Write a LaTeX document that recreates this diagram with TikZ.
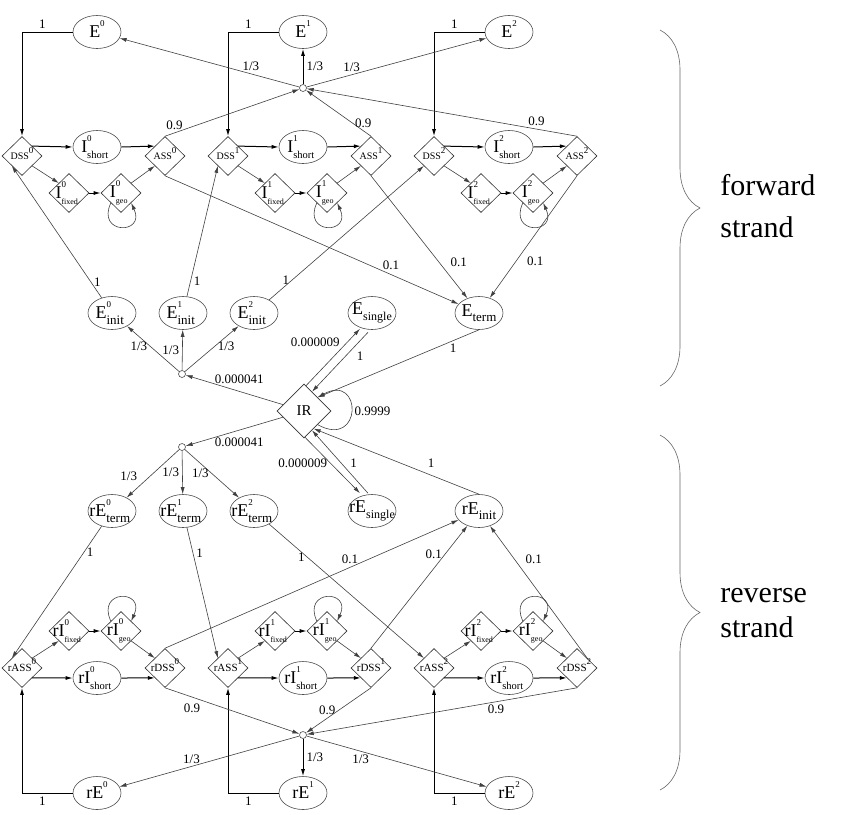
\documentclass[tikz,border=0pt]{standalone}
\usepackage{fontspec}
\setmainfont{Liberation Serif}
\usetikzlibrary{shapes.geometric,arrows.meta,decorations.pathreplacing}

% state label: [sub size]{name}{superscript}{subscript}
\newcommand{\nlab}[4][5]{\makebox[0pt]{#2\rlap{\raisebox{0.62em}{\fontsize{4.5}{5}\selectfont #3}}\rlap{\raisebox{-2.8pt}{\fontsize{#1}{6}\selectfont #4}}\phantom{\fontsize{4.5}{5}\selectfont #3}\phantom{\fontsize{#1}{6}\selectfont #4}}}

\begin{document}
\begin{tikzpicture}[y=-0.5pt, x=0.5pt,
	ell/.style={ellipse, draw=black!70, line width=0.3pt, minimum width=24pt, minimum height=16.5pt, inner sep=0pt, font=\fontsize{9}{10}\selectfont},
	dia/.style={diamond, draw=black!80, line width=0.3pt, minimum width=20pt, minimum height=19.5pt, inner sep=0pt, font=\fontsize{5}{6}\selectfont},
	sdia/.style={dia, font=\fontsize{9}{10}\selectfont},
	hub/.style={circle, draw=black!70, line width=0.3pt, minimum size=3.5pt, inner sep=0pt},
	link/.style={draw=black!75, line width=0.3pt, -{Latex[length=3.5pt,width=2pt]}},
	strong/.style={link, draw=black, line width=0.5pt},
	lbl/.style={font=\fontsize{6.5}{7}\selectfont, inner sep=1.5pt},
	side/.style={font=\fontsize{15}{18}\selectfont, inner sep=0pt, anchor=base west}]
	\useasboundingbox (0,0) rectangle (854,814);

	%forward strand
	\foreach \k/\x in {0/0,1/206,2/412}{
		\node[ell] (E\k) at (97+\x,32) {\nlab{E}{\k}{}};
		\node[dia] (DSS\k) at (22+\x,156) {\nlab{DSS}{\k}{}};
		\node[ell] (Is\k) at (97+\x,147) {\nlab[5.25]{I}{\k}{short}};
		\node[dia] (ASS\k) at (165+\x,156) {\nlab{ASS}{\k}{}};
		\node[sdia] (If\k) at (69+\x,193) {\nlab[4]{I}{\k}{fixed}};
		\node[sdia] (Ig\k) at (121+\x,193) {\nlab[4]{I}{\k}{geo}};
		\draw[strong] (E\k.west) -| (DSS\k.north) node[lbl, pos=0.3, above] {1};
		\draw[strong] (DSS\k.north east) -- (Is\k.west);
		\draw[strong] (Is\k.east) -- (ASS\k.north west);
		\draw[link] (DSS\k.south east) -- (If\k.north west);
		\draw[strong] (If\k.east) -- (Ig\k.west);
		\draw[link] (Ig\k.north east) -- (ASS\k.south west);
		\draw[link] (Ig\k.south west) .. controls +(-15,32) and +(15,32) .. (Ig\k.south east);
	}

	%top hub
	\node[hub] (htop) at (303,88) {};
	\draw[link] (htop) -- (E0) node[lbl, pos=0.27, above] {1/3};
	\draw[strong] (htop) -- (E1) node[lbl, pos=0.5, right] {1/3};
	\draw[link] (htop) -- (E2) node[lbl, pos=0.25, above] {1/3};
	\draw[link] (ASS0.north) -- (htop) node[lbl, pos=0.07, above] {0.9};
	\draw[link] (ASS1.north) -- (htop) node[lbl, pos=0.12, above] {0.9};
	\draw[link] (ASS2.north) -- (htop) node[lbl, pos=0.15, above] {0.9};

	%initial, single and terminal exons
	\node[ell] (Ei0) at (112,313) {\nlab[6.5]{E}{0}{init}};
	\node[ell] (Ei1) at (183,313) {\nlab[6.5]{E}{1}{init}};
	\node[ell] (Ei2) at (254,313) {\nlab[6.5]{E}{2}{init}};
	\node[ell] (Es) at (372,313) {\nlab[6]{E}{}{single}};
	\node[ell] (Et) at (479,313) {\nlab[6.5]{E}{}{term}};
	\node[hub] (hinit) at (182,374) {};
	\node[dia, minimum width=27pt, minimum height=27pt, font=\fontsize{7.5}{8}\selectfont] (IR) at (304,411) {IR};

	\draw[link] (Ei0) -- (DSS0.south west) node[lbl, pos=0.12, right] {1};
	\draw[link] (Ei1) -- (DSS1.south west) node[lbl, pos=0.12, right] {1};
	\draw[link] (Ei2) -- (DSS2.south west) node[lbl, pos=0.15, left] {1};
	\draw[link] (ASS0.south) -- (Et) node[lbl, pos=0.77, above=1pt] {0.1};
	\draw[link] (ASS1.south) -- (Et) node[lbl, pos=0.71, right=4pt] {0.1};
	\draw[link] (ASS2.south) -- (Et) node[lbl, pos=0.7, right=4pt] {0.1};
	\draw[link] (Et.south) -- (IR.north east) node[lbl, pos=0.16, below] {1};
	\draw[link] ([shift={(2,2)}]IR.north) -- ([shift={(-12,-1)}]Es.south) node[lbl, pos=0.76, left=2pt] {0.000009};
	\draw[link] ([shift={(-4,2.5)}]Es.south) -- ([shift={(8,8)}]IR.north) node[lbl, pos=0.4, right=4pt] {1};
	\draw[link] (IR.south east) .. controls +(45,25) and +(45,-25) .. (IR.north east) node[lbl, pos=0.5, right] {0.9999};
	\draw[link] (IR) -- (hinit) node[lbl, pos=0.45, above=2pt] {0.000041};
	\draw[link] (hinit) -- (Ei0) node[lbl, pos=0.55, left] {1/3};
	\draw[link] (hinit) -- (Ei1) node[lbl, pos=0.5, left] {1/3};
	\draw[link] (hinit) -- (Ei2) node[lbl, pos=0.55, right] {1/3};

	%reverse strand
	\node[ell] (rEt0) at (112,511) {\nlab[6.5]{rE}{0}{term}};
	\node[ell] (rEt1) at (183,511) {\nlab[6.5]{rE}{1}{term}};
	\node[ell] (rEt2) at (254,511) {\nlab[6.5]{rE}{2}{term}};
	\node[ell] (rEs) at (372,511) {\nlab[6]{rE}{}{single}};
	\node[ell] (rEi) at (479,511) {\nlab[6.5]{rE}{}{init}};
	\node[hub] (hrev) at (182,447) {};

	\draw[link] (IR) -- (hrev) node[lbl, pos=0.45, below=2pt] {0.000041};
	\draw[link] (hrev) -- (rEt0) node[lbl, pos=0.55, left=5pt] {1/3};
	\draw[link] (hrev) -- (rEt1) node[lbl, pos=0.5, left] {1/3};
	\draw[link] (hrev) -- (rEt2) node[lbl, pos=0.5, left] {1/3};
	\draw[link] ([shift={(1,-1)}]IR.south) -- ([shift={(-12,-1)}]rEs.north) node[lbl, pos=0.46, left] {0.000009};
	\draw[link] ([shift={(-4,-1)}]rEs.north) -- ([shift={(8,-8)}]IR.south) node[lbl, pos=0.48, right=3pt] {1};
	\draw[link] (rEi.north) -- ([shift={(-4,4)}]IR.south east) node[lbl, pos=0.29, above=2pt] {1};

	\foreach \k/\x in {0/0,1/206,2/412}{
		\node[dia, font=\fontsize{5.5}{6}\selectfont] (rASS\k) at (22+\x,668) {\nlab{rASS}{\k}{}};
		\node[ell] (rIs\k) at (97+\x,678) {\nlab[5.25]{rI}{\k}{short}};
		\node[dia, font=\fontsize{5.5}{6}\selectfont] (rDSS\k) at (165+\x,668) {\nlab{rDSS}{\k}{}};
		\node[sdia] (rIf\k) at (69+\x,631) {\nlab[4]{rI}{\k}{fixed}};
		\node[sdia] (rIg\k) at (121+\x,631) {\nlab[4]{rI}{\k}{geo}};
		\node[ell] (rE\k) at (97+\x,793) {\nlab{rE}{\k}{}};
		\draw[strong] (rE\k.west) -| (rASS\k.south) node[lbl, pos=0.3, below] {1};
		\draw[strong] (rASS\k.south east) -- (rIs\k.west);
		\draw[strong] (rIs\k.east) -- (rDSS\k.south west);
		\draw[link] (rASS\k.north east) -- (rIf\k.south west);
		\draw[strong] (rIf\k.east) -- (rIg\k.west);
		\draw[link] (rIg\k.south east) -- (rDSS\k.north west);
		\draw[link] (rIg\k.north west) .. controls +(-15,-32) and +(15,-32) .. (rIg\k.north east);
	}

	\draw[link] (rEt0) -- (rASS0.north west) node[lbl, pos=0.2, right] {1};
	\draw[link] (rEt1) -- (rASS1.north west) node[lbl, pos=0.2, right] {1};
	\draw[link] (rEt2) -- (rASS2.north west) node[lbl, pos=0.25, left] {1};
	\draw[link] (rDSS0.north) -- (rEi) node[lbl, pos=0.63, above] {0.1};
	\draw[link] (rDSS1.north) -- (rEi) node[lbl, pos=0.77, left] {0.1};
	\draw[link] (rDSS2.north east) -- (rEi) node[lbl, pos=0.75, right=4pt] {0.1};

	%bottom hub
	\node[hub] (hbot) at (303,735) {};
	\draw[link] (rDSS0.south) -- (hbot) node[lbl, pos=0.2, below=2pt] {0.9};
	\draw[link] (rDSS1.south) -- (hbot) node[lbl, pos=0.5, left] {0.9};
	\draw[link] (rDSS2.south) -- (hbot) node[lbl, pos=0.3, below] {0.9};
	\draw[link] (hbot) -- (rE0) node[lbl, pos=0.6, above] {1/3};
	\draw[strong] (hbot) -- (rE1) node[lbl, pos=0.5, right] {1/3};
	\draw[link] (hbot) -- (rE2) node[lbl, pos=0.3, below] {1/3};

	%braces
	\draw[black!60, line width=0.3pt, decorate, decoration={brace, amplitude=20pt}] (660,30) -- (660,386);
	\draw[black!60, line width=0.3pt, decorate, decoration={brace, amplitude=20pt}] (660,435) -- (660,790);
	\node[side] (fw) at (720,195) {forward};
	\node[side] (fs) at (720,237) {strand};
	\node[side] (rv) at (720,602) {reverse};
	\node[side] (rs) at (720,637) {strand};
\end{tikzpicture}
\end{document}
